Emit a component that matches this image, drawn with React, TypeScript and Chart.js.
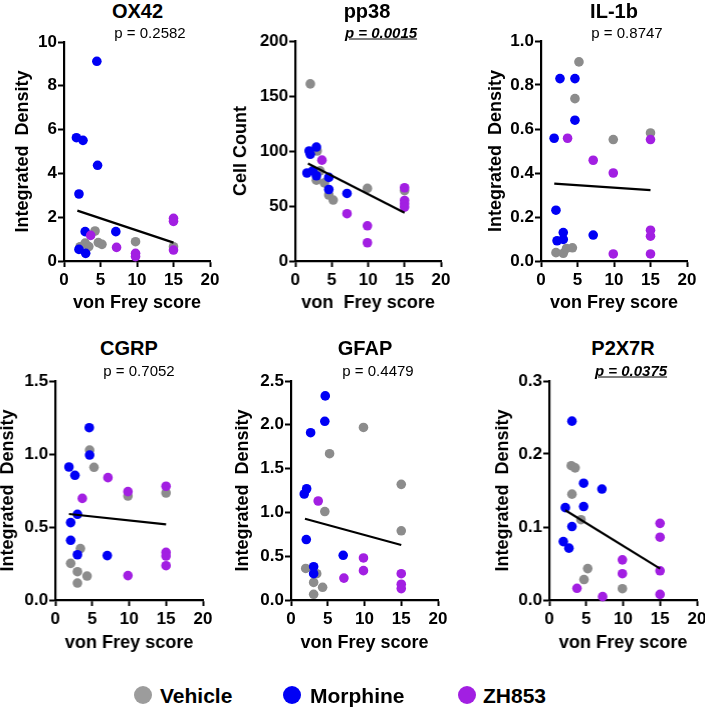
import React, { useEffect, useRef } from "react";
import { Chart, registerables } from "chart.js";
Chart.register(...registerables);

const FONT = "'Liberation Sans', Arial, Helvetica, sans-serif";
const VEHICLE = "#8C8C8C";
const MORPHINE = "#0000F5";
const ZH853 = "#A21FE2";
const LEGEND_VEHICLE = "#9C9C9C";

const xTicks = [0, 5, 10, 15, 20];
const groupNames = ["Vehicle", "Morphine", "ZH853"];

// ---- OX42 ----
const ox42Ticks = [0, 2, 4, 6, 8, 10];
const ox42Vehicle = [[2.2, 0.65], [2.9, 0.82], [3.4, 0.66], [4.25, 1.37], [4.7, 0.84], [5.2, 0.76], [9.8, 0.88], [15, 0.65]];
const ox42Morphine = [[1.7, 5.63], [2.6, 5.51], [4.5, 9.12], [4.6, 4.37], [2.05, 3.06], [2.9, 1.34], [7.1, 1.34], [2.05, 0.53], [2.97, 0.35]];
const ox42Zh853 = [[3.65, 1.17], [7.2, 0.62], [9.8, 0.35], [9.8, 0.2], [15, 1.95], [15, 1.81], [15, 0.5]];
const ox42Fit = [[1.83, 2.3], [15, 0.84]];

// ---- pp38 ----
const pp38Ticks = [0, 50, 100, 150, 200];
const pp38Vehicle = [[2.06, 161], [3.0, 100], [2.9, 73.5], [3.4, 82], [4.0, 71], [4.6, 60], [5.2, 55.4], [9.9, 66], [15, 64]];
const pp38Morphine = [[1.9, 100], [2.06, 97], [2.9, 103.6], [1.6, 80], [2.4, 82], [2.9, 77.5], [4.6, 76], [4.6, 65], [7.1, 61.4]];
const pp38Zh853 = [[3.66, 91.7], [7.1, 43], [9.9, 32], [9.9, 16.6], [15, 66.6], [15, 55], [15, 52], [15, 49]];
const pp38Fit = [[1.74, 88.6], [15, 43.9]];

// ---- IL-1b ----
const il1bTicks = [0, 0.2, 0.4, 0.6, 0.8, 1.0];
const il1bVehicle = [[5.2, 0.905], [4.65, 0.738], [9.9, 0.552], [15, 0.582], [2.05, 0.038], [3.05, 0.035], [3.5, 0.057], [4.3, 0.06]];
const il1bMorphine = [[2.6, 0.829], [4.65, 0.829], [4.65, 0.64], [1.8, 0.558], [2.05, 0.231], [3.05, 0.129], [3.05, 0.098], [2.2, 0.092], [7.15, 0.118]];
const il1bZh853 = [[3.64, 0.558], [15, 0.552], [7.15, 0.458], [9.9, 0.4], [15, 0.14], [15, 0.113], [9.9, 0.032], [15, 0.032]];
const il1bFit = [[1.82, 0.352], [15, 0.322]];

// ---- CGRP ----
const cgrpTicks = [0, 0.5, 1.0, 1.5];
const cgrpVehicle = [[4.65, 1.027], [5.24, 0.909], [9.84, 0.712], [15, 0.733], [3.4, 0.352], [2.08, 0.251], [3.0, 0.194], [4.3, 0.164], [3.0, 0.116]];
const cgrpMorphine = [[4.6, 1.18], [4.65, 0.993], [1.85, 0.911], [2.66, 0.854], [3.0, 0.587], [2.08, 0.53], [2.08, 0.409], [3.0, 0.31], [7.04, 0.304]];
const cgrpZh853 = [[7.13, 0.838], [9.84, 0.742], [15, 0.779], [3.66, 0.696], [15, 0.326], [15, 0.301], [15, 0.235], [9.84, 0.167]];
const cgrpFit = [[1.85, 0.589], [15, 0.518]];

// ---- GFAP ----
const gfapTicks = [0, 0.5, 1.0, 1.5, 2.0, 2.5];
const gfapVehicle = [[9.86, 1.97], [5.25, 1.67], [15, 1.32], [4.6, 1.01], [15, 0.79], [2.0, 0.36], [3.5, 0.3], [3.08, 0.2], [4.3, 0.145], [3.08, 0.065]];
const gfapMorphine = [[4.66, 2.33], [4.6, 2.04], [2.67, 1.91], [2.13, 1.27], [1.8, 1.21], [2.08, 0.69], [7.1, 0.51], [3.08, 0.38], [3.08, 0.3]];
const gfapZh853 = [[3.7, 1.13], [9.86, 0.48], [9.86, 0.335], [7.2, 0.25], [15, 0.3], [15, 0.18], [15, 0.13]];
const gfapFit = [[1.9, 0.928], [15, 0.628]];

// ---- P2X7R ----
const p2x7rTicks = [0, 0.1, 0.2, 0.3];
const p2x7rVehicle = [[2.98, 0.184], [3.5, 0.181], [3.07, 0.145], [4.29, 0.11], [5.2, 0.043], [4.7, 0.028], [9.9, 0.0155]];
const p2x7rMorphine = [[3.07, 0.245], [4.65, 0.16], [7.13, 0.152], [2.17, 0.1265], [4.65, 0.128], [3.07, 0.1006], [1.9, 0.08], [2.66, 0.071]];
const p2x7rZh853 = [[15, 0.105], [15, 0.086], [9.9, 0.055], [9.9, 0.036], [15, 0.04], [3.75, 0.016], [7.22, 0.0046], [15, 0.0077]];
const p2x7rFit = [[2.17, 0.123], [15, 0.043]];

type Panel = {
  title: string; p: string; sig: boolean;
  yLabel: string; xLabel: string;
  yTicks: number[]; dec: number;
  vehicle: number[][]; morphine: number[][]; zh853: number[][]; fit: number[][];
  axL: number; axR: number; axTop: number; axBot: number;
  yTitleX: number; xTitleY: number;
  titleX: number; titleY: number; pX: number; pY: number;
};

const panels: Panel[] = [
  { title: "OX42", p: "p = 0.2582", sig: false, yLabel: "Integrated  Density", xLabel: "von Frey score",
    yTicks: ox42Ticks, dec: 0, vehicle: ox42Vehicle, morphine: ox42Morphine, zh853: ox42Zh853, fit: ox42Fit,
    axL: 64, axR: 210, axTop: 42, axBot: 261, yTitleX: 23, xTitleY: 303, titleX: 137.5, titleY: 11, pX: 150, pY: 31.5 },
  { title: "pp38", p: "p = 0.0015", sig: true, yLabel: "Cell Count", xLabel: "von  Frey score",
    yTicks: pp38Ticks, dec: 0, vehicle: pp38Vehicle, morphine: pp38Morphine, zh853: pp38Zh853, fit: pp38Fit,
    axL: 295, axR: 440.7, axTop: 41, axBot: 261, yTitleX: 241.5, xTitleY: 303, titleX: 367, titleY: 11, pX: 381, pY: 31.5 },
  { title: "IL-1b", p: "p = 0.8747", sig: false, yLabel: "Integrated  Density", xLabel: "von Frey score",
    yTicks: il1bTicks, dec: 1, vehicle: il1bVehicle, morphine: il1bMorphine, zh853: il1bZh853, fit: il1bFit,
    axL: 541, axR: 687.3, axTop: 41, axBot: 261, yTitleX: 496, xTitleY: 303, titleX: 614, titleY: 11, pX: 627, pY: 31.5 },
  { title: "CGRP", p: "p = 0.7052", sig: false, yLabel: "Integrated  Density", xLabel: "von Frey score",
    yTicks: cgrpTicks, dec: 1, vehicle: cgrpVehicle, morphine: cgrpMorphine, zh853: cgrpZh853, fit: cgrpFit,
    axL: 55, axR: 202.7, axTop: 381, axBot: 600, yTitleX: 8.5, xTitleY: 643, titleX: 129, titleY: 348, pX: 139, pY: 370 },
  { title: "GFAP", p: "p = 0.4479", sig: false, yLabel: "Integrated  Density", xLabel: "von Frey score",
    yTicks: gfapTicks, dec: 1, vehicle: gfapVehicle, morphine: gfapMorphine, zh853: gfapZh853, fit: gfapFit,
    axL: 291, axR: 438.3, axTop: 381, axBot: 600, yTitleX: 243.5, xTitleY: 643, titleX: 365, titleY: 348, pX: 378, pY: 370 },
  { title: "P2X7R", p: "p = 0.0375", sig: true, yLabel: "Integrated  Density", xLabel: "von Frey score",
    yTicks: p2x7rTicks, dec: 1, vehicle: p2x7rVehicle, morphine: p2x7rMorphine, zh853: p2x7rZh853, fit: p2x7rFit,
    axL: 549, axR: 696.7, axTop: 381, axBot: 600, yTitleX: 503, xTitleY: 643, titleX: 623, titleY: 348, pX: 631, pY: 370 },
];

const PAD_L = 70, PAD_T = 10, PAD_R = 20, PAD_B = 60;
const AX_TITLE_SIZE = 18;
const AX_TITLE_LH = AX_TITLE_SIZE * 1.2;

const toPts = (arr: number[][]) => arr.map(([x, y]) => ({ x, y }));

function pointSet(label: string, arr: number[][], color: string) {
  return {
    label, data: toPts(arr), backgroundColor: color, borderColor: color,
    pointBackgroundColor: color, pointBorderColor: color, pointBorderWidth: 0,
    pointRadius: 4.8, borderWidth: 0, clip: false as any,
  };
}

function ScatterPanel({ p }: { p: Panel }) {
  const ref = useRef<HTMLCanvasElement>(null);
  const left = p.axL - PAD_L;
  const top = p.axTop - PAD_T;
  const width = p.axR + PAD_R - left;
  const height = p.axBot + PAD_B - top;
  useEffect(() => {
    if (!ref.current) return;
    const tickFont = { size: 17, weight: "bold" as const, family: FONT };
    const titleFont = { size: AX_TITLE_SIZE, weight: "bold" as const, family: FONT };
    const chart = new Chart(ref.current, {
      type: "scatter",
      data: {
        datasets: [
          { type: "line", label: "fit", data: toPts(p.fit), borderColor: "#000", borderWidth: 2.2, pointRadius: 0, showLine: true, fill: false, clip: false as any } as any,
          pointSet(groupNames[2], p.zh853, ZH853),
          pointSet(groupNames[1], p.morphine, MORPHINE),
          pointSet(groupNames[0], p.vehicle, VEHICLE),
        ],
      },
      options: {
        responsive: false, animation: false, devicePixelRatio: 1, events: [],
        layout: { padding: { top: PAD_T, right: PAD_R, bottom: 0, left: 0 } },
        plugins: { legend: { display: false }, tooltip: { enabled: false } },
        scales: {
          x: {
            type: "linear", min: 0, max: 20,
            afterBuildTicks: (s: any) => { s.ticks = xTicks.map((v) => ({ value: v })); },
            afterFit: (s: any) => { s.height = PAD_B; s.paddingLeft = 0; s.paddingRight = 0; },
            grid: { display: true, drawOnChartArea: false, drawTicks: true, tickLength: 6, tickWidth: 2, tickColor: "#000" },
            border: { display: true, color: "#000", width: 2.2 },
            ticks: { color: "#000", font: tickFont, padding: 3, maxRotation: 0, autoSkip: false },
            title: { display: true, text: p.xLabel, color: "#000", font: titleFont,
              padding: { top: 0, bottom: p.axBot + PAD_B - p.xTitleY - AX_TITLE_LH / 2 } },
          },
          y: {
            type: "linear", min: p.yTicks[0], max: p.yTicks[p.yTicks.length - 1],
            afterBuildTicks: (s: any) => { s.ticks = p.yTicks.map((v) => ({ value: v })); },
            afterFit: (s: any) => { s.width = PAD_L; s.paddingTop = 0; s.paddingBottom = 0; },
            grid: { display: true, drawOnChartArea: false, drawTicks: true, tickLength: 6, tickWidth: 2, tickColor: "#000" },
            border: { display: true, color: "#000", width: 2.2 },
            ticks: { color: "#000", font: tickFont, padding: 1, autoSkip: false,
              callback: (v: any) => Number(v).toFixed(p.dec) },
            title: { display: true, text: p.yLabel, color: "#000", font: titleFont,
              padding: { top: p.yTitleX - left - AX_TITLE_LH / 2, bottom: 0 } },
          },
        },
      } as any,
    });
    return () => chart.destroy();
  }, []);
  return (
    <>
      <canvas ref={ref} width={width} height={height}
        style={{ position: "absolute", left, top, width, height }} />
      <div style={{ position: "absolute", left: p.titleX, top: p.titleY, transform: "translate(-50%, -50%)",
        font: `bold 20px ${FONT}`, lineHeight: "1", whiteSpace: "nowrap", color: "#000" }}>{p.title}</div>
      <div style={{ position: "absolute", left: p.pX, top: p.pY, transform: "translate(-50%, -50%)",
        font: p.sig ? `italic bold 15px ${FONT}` : `15px ${FONT}`, lineHeight: "1", whiteSpace: "nowrap", color: "#000",
        textDecoration: p.sig ? "underline" : "none" }}>{p.p}</div>
    </>
  );
}

const legendItems = [
  { name: groupNames[0], color: LEGEND_VEHICLE, cx: 143, tx: 160 },
  { name: groupNames[1], color: MORPHINE, cx: 292, tx: 310 },
  { name: groupNames[2], color: ZH853, cx: 467, tx: 483 },
];

export default function App() {
  return (
    <div style={{ position: "absolute", left: 0, top: 0, width: 705, height: 708, overflow: "hidden", background: "#fff" }}>
      {panels.map((p) => <ScatterPanel key={p.title} p={p} />)}
      {legendItems.map((it) => (
        <React.Fragment key={it.name}>
          <div style={{ position: "absolute", left: it.cx - 9, top: 695 - 9, width: 18, height: 18, borderRadius: 9, background: it.color }} />
          <div style={{ position: "absolute", left: it.tx, top: 695, transform: "translateY(-50%)", font: `bold 21px ${FONT}`,
            lineHeight: "1", whiteSpace: "nowrap", color: "#000" }}>{it.name}</div>
        </React.Fragment>
      ))}
    </div>
  );
}
